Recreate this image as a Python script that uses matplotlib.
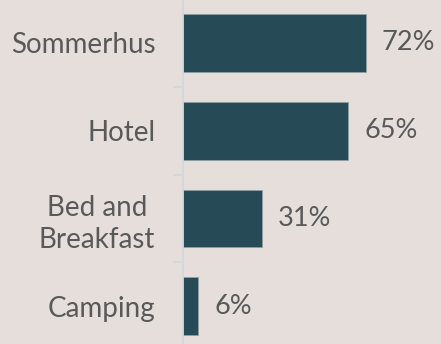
import matplotlib
matplotlib.use("Agg")
import matplotlib.pyplot as plt

categories = ["Sommerhus", "Hotel", "Bed and\nBreakfast", "Camping"]
values = [72, 65, 31, 6]

BG = "#E6DEDB"
BAR = "#264B57"
TEXT = "#595959"
AXIS = "#D3D6D8"

plt.rcParams["font.family"] = ["Lato", "DejaVu Sans"]

fig = plt.figure(figsize=(4.41, 3.44), dpi=100, facecolor=BG)
ax = fig.add_axes([183 / 441, 0, 258 / 441, 1], facecolor=BG)

pos = list(range(len(categories)))
ax.barh(pos, values, height=0.66, color=BAR, edgecolor="#8E9EA3", linewidth=0.6)

for y, v in zip(pos, values):
    ax.text(v + 6.3, y, f"{v}%", va="center", ha="left", color=TEXT, fontsize=19.5)

ax.set_xlim(0, 101.6)
ax.set_ylim(3.43, -0.49)

ax.set_yticks(pos)
ax.set_yticklabels(categories, fontsize=20, color=TEXT, ha="right",
                   multialignment="center", linespacing=1.3)
ax.tick_params(axis="y", which="major", length=0, pad=20)
ax.set_yticks([0.5, 1.5, 2.5], minor=True)
ax.tick_params(axis="y", which="minor", length=7, width=1.2, color=AXIS)
ax.set_xticks([])

for side in ["top", "right", "bottom"]:
    ax.spines[side].set_visible(False)
ax.spines["left"].set_color(AXIS)
ax.spines["left"].set_linewidth(1.2)

fig.savefig("out.png", dpi=100, facecolor=BG)
